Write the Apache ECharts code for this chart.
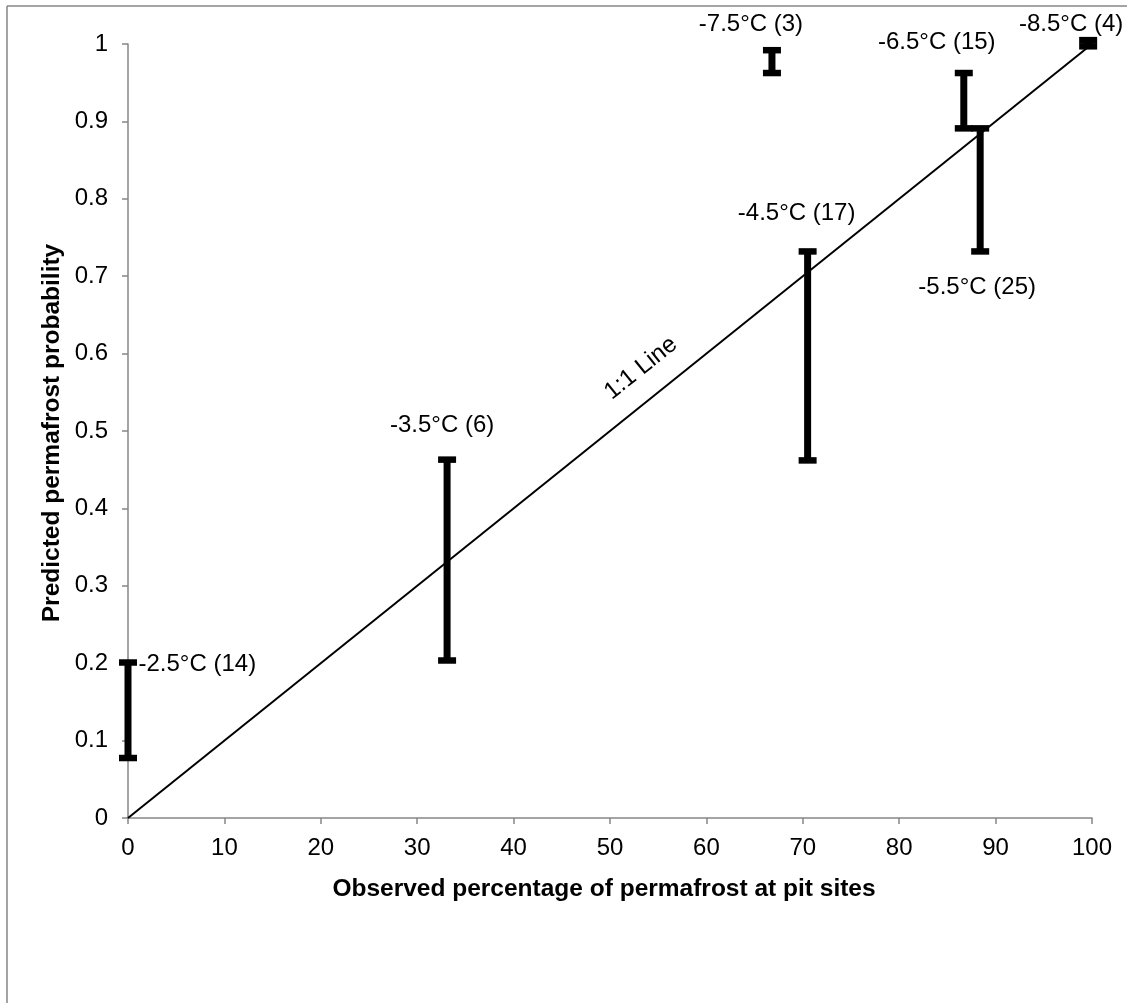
<!DOCTYPE html>
<html>
<head>
<meta charset="utf-8">
<script src="https://cdn.jsdelivr.net/npm/echarts@6/dist/echarts.min.js"></script>
<style>
html,body{margin:0;padding:0;background:#fff;}
#chart{width:1127px;height:1003px;}
</style>
</head>
<body>
<div id="chart"></div>
<script>
// ---- data ----
const observedPct = [0, 33.1, 70.5, 88.4, 86.7, 66.8, 99.6];
const probLow     = [0.0775, 0.2035, 0.462, 0.732, 0.891, 0.9625, 0.997];
const probHigh    = [0.2009, 0.463, 0.732, 0.891, 0.9625, 0.992, 1.005];
const groupLabels = ['-2.5°C (14)', '-3.5°C (6)', '-4.5°C (17)', '-5.5°C (25)', '-6.5°C (15)', '-7.5°C (3)', '-8.5°C (4)'];
const oneToOneX = [0, 100];
const oneToOneY = [0, 1];
const xTicks = [0, 10, 20, 30, 40, 50, 60, 70, 80, 90, 100];
const yTicks = [0, 0.1, 0.2, 0.3, 0.4, 0.5, 0.6, 0.7, 0.8, 0.9, 1];

// ---- layout (label placement relative to bar ends) ----
const labelPlace = [
  {anchor: 'high', dx: 10.5, dy: 1.5, align: 'left'},
  {anchor: 'high', dx: -5, dy: -34.5, align: 'center'},
  {anchor: 'high', dx: -11, dy: -38.5, align: 'center'},
  {anchor: 'low', dx: -3, dy: 35.5, align: 'center'},
  {anchor: 'high', dx: -27, dy: -30.5, align: 'center'},
  {anchor: 'high', dx: -21, dy: -26, align: 'center'},
  {anchor: 'high', dx: -17, dy: -16, align: 'center'}
];

const FONT = '"Liberation Sans", Arial, sans-serif';
const FS = 24;
const AXIS_GRAY = '#868686';

const barData = observedPct.map((x, i) => [x, probLow[i], probHigh[i], i]);
const lineData = oneToOneX.map((x, i) => [x, oneToOneY[i]]);

const chart = echarts.init(document.getElementById('chart'), null, {renderer: 'canvas'});

const option = {
  backgroundColor: '#fff',
  animation: false,
  grid: {left: 128, right: 35, top: 44, bottom: 185, containLabel: false},
  xAxis: {
    type: 'value', min: 0, max: 100, interval: 10,
    axisLine: {show: true, onZero: false, lineStyle: {color: AXIS_GRAY, width: 1.5}},
    axisTick: {show: true, inside: false, length: 6, lineStyle: {color: AXIS_GRAY, width: 1.5}},
    splitLine: {show: false},
    axisLabel: {
      color: '#000', fontFamily: FONT, fontSize: FS, margin: 18,
      formatter: v => xTicks.indexOf(v) >= 0 ? String(v) : ''
    }
  },
  yAxis: {
    type: 'value', min: 0, max: 1, interval: 0.1,
    axisLine: {show: true, onZero: false, lineStyle: {color: AXIS_GRAY, width: 1.5}},
    axisTick: {show: true, inside: false, length: 6, lineStyle: {color: AXIS_GRAY, width: 1.5}},
    splitLine: {show: false},
    axisLabel: {
      color: '#000', fontFamily: FONT, fontSize: FS, margin: 20,
      formatter: v => {
        const t = yTicks.find(k => Math.abs(k - v) < 1e-9);
        return t === undefined ? '' : String(t);
      }
    }
  },
  series: [
    {
      type: 'line',
      data: lineData,
      symbol: 'none',
      lineStyle: {color: '#000', width: 2},
      z: 2
    },
    {
      type: 'custom',
      data: barData,
      clip: false,
      z: 3,
      renderItem: function (params, api) {
        const x = api.value(0), lo = api.value(1), hi = api.value(2);
        const idx = api.value(3);
        const pLo = api.coord([x, lo]);
        const pHi = api.coord([x, hi]);
        const capW = 18, capH = 6.5, stemW = 7;
        const children = [
          {type: 'rect', shape: {x: pLo[0] - stemW / 2, y: pHi[1], width: stemW, height: pLo[1] - pHi[1]}, style: {fill: '#000'}},
          {type: 'rect', shape: {x: pHi[0] - capW / 2, y: pHi[1] - capH / 2, width: capW, height: capH}, style: {fill: '#000'}},
          {type: 'rect', shape: {x: pLo[0] - capW / 2, y: pLo[1] - capH / 2, width: capW, height: capH}, style: {fill: '#000'}}
        ];
        const lp = labelPlace[idx];
        const base = lp.anchor === 'high' ? pHi : pLo;
        children.push({
          type: 'text',
          style: {
            text: groupLabels[idx],
            x: base[0] + lp.dx, y: base[1] + lp.dy,
            align: lp.align, verticalAlign: 'middle',
            fill: '#000', font: FS + 'px ' + FONT
          }
        });
        return {type: 'group', children: children};
      }
    }
  ]
};
chart.setOption(option);

// 1:1 line label, frame and axis titles
const a = chart.convertToPixel({gridIndex: 0}, [0, 0]);
const b = chart.convertToPixel({gridIndex: 0}, [100, 1]);
const ang = Math.atan2(a[1] - b[1], b[0] - a[0]);
const lblPos = chart.convertToPixel({gridIndex: 0}, [53.2, 0.581]);
chart.setOption({
  graphic: [
    {type: 'line', shape: {x1: 7, y1: 6, x2: 7, y2: 1003}, style: {stroke: AXIS_GRAY, lineWidth: 1.5}, silent: true},
    {type: 'line', shape: {x1: 7, y1: 6, x2: 1127, y2: 6}, style: {stroke: AXIS_GRAY, lineWidth: 1.5}, silent: true},
    {type: 'text', x: lblPos[0], y: lblPos[1], rotation: ang,
     style: {text: '1:1 Line', align: 'center', verticalAlign: 'middle', fill: '#000', font: FS + 'px ' + FONT}},
    {type: 'text', x: 604, y: 889,
     style: {text: 'Observed percentage of permafrost at pit sites', align: 'center', verticalAlign: 'middle', fill: '#000', font: 'bold 24.5px ' + FONT}},
    {type: 'text', x: 52, y: 433, rotation: Math.PI / 2,
     style: {text: 'Predicted permafrost probability', align: 'center', verticalAlign: 'middle', fill: '#000', font: 'bold 24.5px ' + FONT}}
  ]
});
</script>
</body>
</html>
